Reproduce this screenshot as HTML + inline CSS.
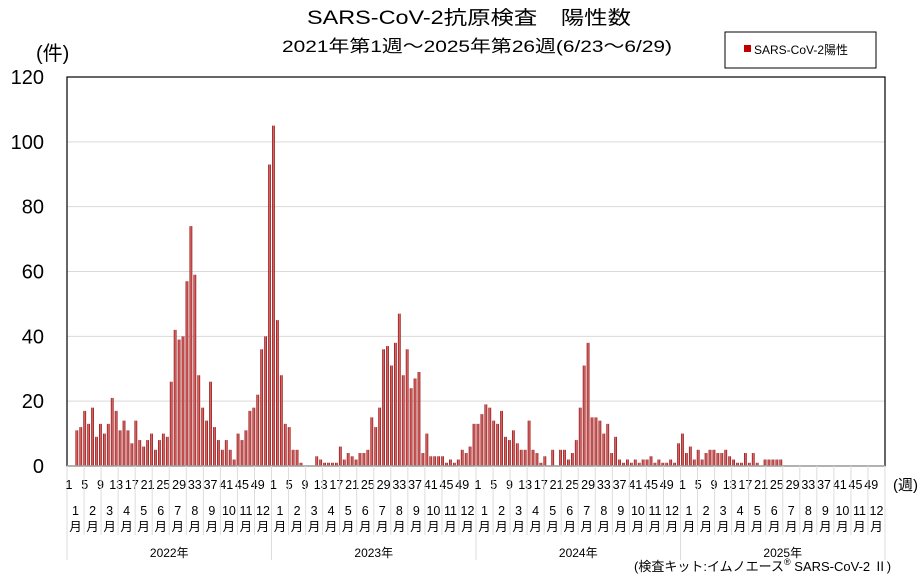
<!DOCTYPE html>
<html><head><meta charset="utf-8">
<style>
body{margin:0;background:#fff;}
svg{display:block;font-family:"Liberation Sans","Noto Sans CJK JP",sans-serif;}
</style></head>
<body>
<svg id="chart" width="924" height="578" viewBox="0 0 924 578" xmlns="http://www.w3.org/2000/svg">
<defs>
<linearGradient id="barg" x1="0" x2="1" y1="0" y2="0">
<stop offset="0" stop-color="#800000"/><stop offset="0.5" stop-color="#e87878"/><stop offset="1" stop-color="#800000"/>
</linearGradient>
</defs>
<text x="469" y="24" font-size="19" text-anchor="middle" fill="#000" textLength="324" lengthAdjust="spacingAndGlyphs">SARS-CoV-2抗原検査　陽性数</text>
<text x="477" y="52" font-size="17" text-anchor="middle" fill="#000" textLength="390" lengthAdjust="spacingAndGlyphs">2021年第1週～2025年第26週(6/23～6/29)</text>
<text x="36" y="60" font-size="20" fill="#000">(件)</text>
<g>
<rect x="725" y="32" width="151" height="36" fill="#fff" stroke="#000" stroke-width="1"/>
<rect x="744" y="45" width="7" height="7" fill="#c00000"/>
<text x="754" y="54" font-size="12" fill="#000">SARS-CoV-2陽性</text>
</g>
<g id="grid"></g>
<g id="bars"></g>
<g id="axes"></g>
<text x="893" y="490" font-size="15" fill="#000">(週)</text>
<text x="634" y="571" font-size="13" fill="#000">(検査キット:イムノエース<tspan font-size="9" dy="-6">®</tspan><tspan dy="6"> SARS-CoV-2 Ⅱ)</tspan></text>
</svg>
<script>
const years = ["2022年","2023年","2024年","2025年"];
const yTicks = [0,20,40,60,80,100,120];
const weekTicks = [1,5,9,13,17,21,25,29,33,37,41,45,49];
const months = ["1","2","3","4","5","6","7","8","9","10","11","12"];
const v2022 = [0,0,11,12,17,13,18,9,13,10,13,21,17,11,14,11,7,14,8,6,8,10,5,8,10,9,26,42,39,40,57,74,59,28,18,14,26,12,8,5,8,5,2,10,8,11,17,18,22,36,40,93];
const v2023 = [105,45,28,13,12,5,5,1,0,0,0,3,2,1,1,1,1,6,2,4,3,2,4,4,5,15,12,18,36,37,31,38,47,28,36,24,27,29,4,10,3,3,3,3,1,2,1,2,5,4,6,13];
const v2024 = [13,16,19,18,14,13,17,9,8,11,7,5,5,14,5,4,1,3,0,5,0,5,5,2,4,8,18,31,38,15,15,14,10,13,4,9,2,1,2,1,2,1,2,2,3,1,2,1,1,2,1,7];
const v2025 = [10,4,6,2,5,2,4,5,5,4,4,5,3,2,1,1,4,1,4,1,0,2,2,2,2,2];
const series = [v2022,v2023,v2024,v2025];
const NS="http://www.w3.org/2000/svg";
const X0=67,X1=885,Y0=466,YT=77,YMAX=120;
const yearW=(X1-X0)/4, wk=yearW/52;
function yS(v){return Y0-(v/YMAX)*(Y0-YT);}
function xS(y,w){return X0+y*yearW+(w-0.5)*wk;}
function mk(tag,attrs,parent){const e=document.createElementNS(NS,tag);for(const k in attrs)e.setAttribute(k,attrs[k]);parent.appendChild(e);return e;}
const grid=document.getElementById('grid'),bars=document.getElementById('bars'),axes=document.getElementById('axes');
yTicks.forEach(t=>{
 if(t>0&&t<YMAX){const l=mk('line',{x1:X0,x2:X1,y1:yS(t),y2:yS(t),stroke:'#d9d9d9','stroke-width':1},grid);
 
 }
 const tx=mk('text',{x:44,y:yS(t)+7,'font-size':20,'text-anchor':'end',fill:'#000'},axes);
 tx.textContent=t;
 
 
});
mk('rect',{x:X0,y:YT,width:X1-X0,height:Y0-YT,fill:'none',stroke:'#000','stroke-width':1.2},axes);
series.forEach((arr,yi)=>{
 arr.forEach((v,i)=>{
  const h=Y0-yS(v);
  const r=mk('rect',{x:xS(yi,i+1)-1.4,y:yS(v),width:2.8,height:h,fill:'url(#barg)'},bars);
  
  
 });
});
mk('line',{x1:X0,x2:X1,y1:Y0,y2:Y0,stroke:'#aaa','stroke-width':1.5},axes);
years.forEach((yr,yi)=>{
 const bx=X0+yi*yearW;
 mk('line',{x1:bx,x2:bx,y1:Y0,y2:560,stroke:'#ddd','stroke-width':1},axes);
 weekTicks.forEach(w=>{
  const t=mk('text',{x:xS(yi,w),y:489,'font-size':12.5,'text-anchor':'middle',fill:'#000'},axes);
  t.textContent=w;
  
  
 });
 months.forEach((m,mi)=>{
  const s=bx+mi*yearW/12, e=bx+(mi+1)*yearW/12, c=(s+e)/2;
  if(mi>0)mk('line',{x1:s,x2:s,y1:Y0,y2:535,stroke:'#ddd','stroke-width':1},axes);
  const t=mk('text',{x:c,y:515,'font-size':12.5,'text-anchor':'middle',fill:'#000'},axes);
  t.textContent=m;
  
  
  const t2=mk('text',{x:c,y:531,'font-size':12.5,'text-anchor':'middle',fill:'#000'},axes);
  t2.textContent='月';
 });
 const yl=mk('text',{x:bx+yearW/2,y:557,'font-size':12,'text-anchor':'middle',fill:'#000'},axes);
 yl.textContent=yr;
 
 
});
mk('line',{x1:X1,x2:X1,y1:Y0,y2:560,stroke:'#ddd','stroke-width':1},axes);
</script>
</body></html>
